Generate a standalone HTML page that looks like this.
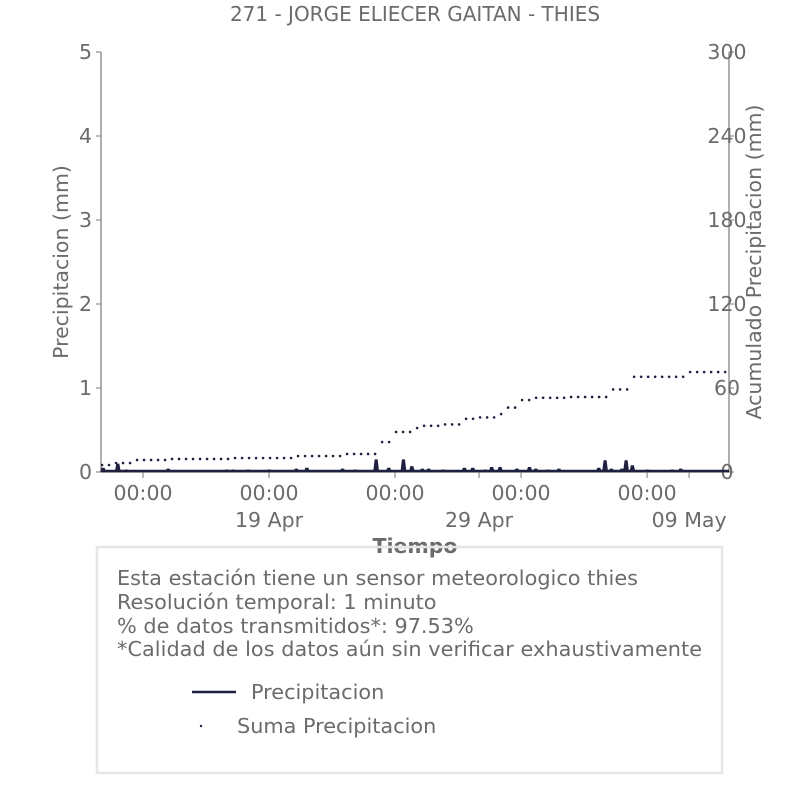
<!DOCTYPE html>
<html><head><meta charset="utf-8"><style>
body{margin:0;background:#fff;width:806px;height:806px;overflow:hidden;font-family:"DejaVu Sans","Liberation Sans",sans-serif;}
svg text{fill:#6b6b6b;font-family:"DejaVu Sans","Liberation Sans",sans-serif;}
</style></head><body>
<svg id="chart" width="806" height="806" xmlns="http://www.w3.org/2000/svg">
<text x="415" y="21" font-size="20" text-anchor="middle">271 - JORGE ELIECER GAITAN - THIES</text>
<g id="axes"></g>
<g id="marks"></g>
<rect x="97" y="547" width="625" height="226" fill="none" stroke="#e6e6e6" stroke-width="2.5"/>
<text x="415" y="553" font-size="20.5" font-weight="bold" text-anchor="middle">Tiempo</text>
<line x1="370" y1="547" x2="460" y2="547" stroke="#e6e6e6" stroke-width="2.5"/>
<text transform="translate(68,262) rotate(-90)" font-size="20.5" text-anchor="middle">Precipitacion (mm)</text>
<text transform="translate(761,262) rotate(-90)" font-size="20.5" text-anchor="middle">Acumulado Precipitacion (mm)</text>
<text font-size="20.8">
<tspan x="117" y="585" textLength="521">Esta estación tiene un sensor meteorologico thies</tspan>
<tspan x="117" y="609">Resolución temporal: 1 minuto</tspan>
<tspan x="117" y="633">% de datos transmitidos*: 97.53%</tspan>
<tspan x="117" y="656" textLength="585">*Calidad de los datos aún sin verificar exhaustivamente</tspan>
</text>
<g>
<line x1="192" y1="692" x2="236" y2="692" stroke="#1f1f3f" stroke-width="2.5"/>
<text x="251" y="699" font-size="20.8">Precipitacion</text>
</g>
<g>
<circle cx="201" cy="726" r="1.2" fill="#1f1f3f"/>
<text x="237" y="733" font-size="20.8">Suma Precipitacion</text>
</g>
</svg>
<script>
// days since 11 Apr 00:00 (approx); domain 0..29.9
const cumDays=[0,0.43,1.43,3.19,6.29,9.24,11.52,13.19,14.0,14.86,15.2,16.14,17.19,18.05,18.76,19.1,19.95,20.67,22.1,24.05,25.1,27.8,29.9];
const cumVals=[5,6.4,8.6,9.3,10,11.4,12.9,21.4,28.6,31.4,33,34,38,39,41.4,46,51.4,53,53.6,59,68,71.4,71.4];
const precipDays=[0.1,0.8,1.2,3.2,6.0,6.3,7.0,8.0,9.3,9.8,10.9,11.5,12.1,13.1,13.7,14.4,14.8,15.3,15.6,16.3,16.9,17.3,17.7,18.3,18.6,19.0,19.8,20.4,20.7,21.3,21.8,23.7,24.0,24.3,24.8,25.0,25.3,26.0,27.2,27.6];
const precipVals=[0.05,0.1,0.03,0.04,0.03,0.03,0.03,0.03,0.04,0.05,0.02,0.04,0.03,0.15,0.05,0.15,0.07,0.04,0.04,0.03,0.02,0.05,0.05,0.03,0.06,0.06,0.04,0.06,0.04,0.03,0.04,0.05,0.14,0.04,0.04,0.14,0.08,0.03,0.03,0.04];
const leftTicks=[0,1,2,3,4,5];
const rightTicks=[0,60,120,180,240,300];
const timeTickDays=[2,8,14,20,26];
const timeTickLabels=["00:00","00:00","00:00","00:00","00:00"];
const dateTickDays=[8,18,28];
const dateTickLabels=["19 Apr","29 Apr","09 May"];

const X0=101,X1=729,Y0=472,Y1=52,DMAX=29.9;
const x=d=>X0+(d/DMAX)*(X1-X0);
const yL=v=>Y0-(v/5)*(Y0-Y1);
const yR=v=>Y0-(v/300)*(Y0-Y1);
const NS="http://www.w3.org/2000/svg";
const axes=document.getElementById('axes'),marks=document.getElementById('marks');
function mk(t,a,p){const e=document.createElementNS(NS,t);for(const k in a)e.setAttribute(k,a[k]);p.appendChild(e);return e;}
const c='#7a7a7a';
const FS=20.5;
let e;
e=mk('line',{x1:X0,y1:Y1,x2:X0,y2:Y0,stroke:c,'stroke-width':1.2},axes);


e=mk('line',{x1:X1,y1:Y1,x2:X1,y2:Y0,stroke:c,'stroke-width':1.2},axes);


e=mk('line',{x1:X0,y1:Y0,x2:X1,y2:Y0,stroke:c,'stroke-width':1.2},axes);


leftTicks.forEach(v=>{mk('line',{x1:X0-5,y1:yL(v),x2:X0,y2:yL(v),stroke:c},axes);
 e=mk('text',{x:X0-9,y:yL(v)+7,'font-size':FS,'text-anchor':'end'},axes);e.textContent=v;
 
 });
rightTicks.forEach(v=>{mk('line',{x1:X1,y1:yR(v),x2:X1+5,y2:yR(v),stroke:c},axes);
 e=mk('text',{x:X1-2,y:yR(v)+7,'font-size':FS,'text-anchor':'middle'},axes);e.textContent=v;
 
 });
timeTickDays.forEach((d,i)=>{mk('line',{x1:x(d),y1:Y0,x2:x(d),y2:Y0+6,stroke:c},axes);
 e=mk('text',{x:x(d),y:Y0+28,'font-size':FS,'text-anchor':'middle'},axes);e.textContent=timeTickLabels[i];
 
 });
dateTickDays.forEach((d,i)=>{mk('line',{x1:x(d),y1:Y0,x2:x(d),y2:Y0+6,stroke:c},axes);
 e=mk('text',{x:x(d),y:Y0+55,'font-size':FS,'text-anchor':'middle'},axes);e.textContent=dateTickLabels[i];
 
 });
e=mk('line',{x1:X0,y1:Y0-1,x2:X1,y2:Y0-1,stroke:'#1f1f3f','stroke-width':2.5},marks);


precipDays.forEach((d,i)=>{const px=x(d),py=yL(precipVals[i]);
 e=mk('path',{d:`M${px-3},${Y0} L${px-1.5},${py} L${px+1.5},${py} L${px+3},${Y0} Z`,fill:'#1f1f3f'},marks);
 
 });
function cumAt(d){let v=cumVals[0];for(let i=0;i<cumDays.length;i++){if(cumDays[i]<=d)v=cumVals[i];}return v;}
for(let d=0.05;d<=DMAX;d+=1/3){
 e=mk('circle',{cx:x(d),cy:yR(cumAt(d)),r:1.3,fill:'#1f1f3f'},marks);
 
 }
</script>
</body></html>
